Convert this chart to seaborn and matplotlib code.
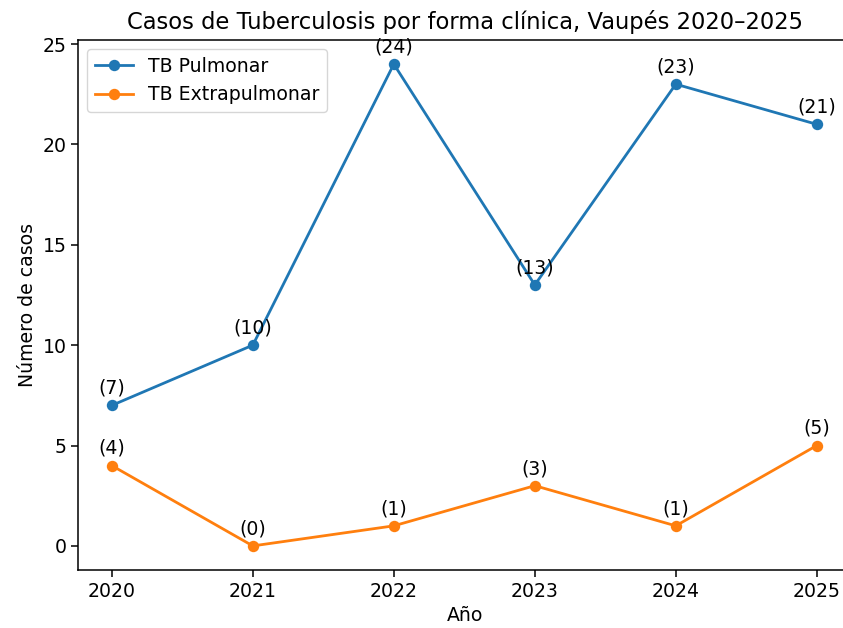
import matplotlib
matplotlib.use("Agg")
import matplotlib.pyplot as plt
import seaborn as sns
import pandas as pd

years = [2020, 2021, 2022, 2023, 2024, 2025]
pulmonar = [7, 10, 24, 13, 23, 21]
extrapulmonar = [4, 0, 1, 3, 1, 5]
series_names = ["TB Pulmonar", "TB Extrapulmonar"]

df = pd.DataFrame({
    "Año": years * 2,
    "Casos": pulmonar + extrapulmonar,
    "Forma": [series_names[0]] * len(years) + [series_names[1]] * len(years),
})

plt.rcParams["font.family"] = ["DejaVu Sans"]
fig = plt.figure(figsize=(8.43, 6.28), dpi=100)
ax = fig.add_axes([78 / 843, 1 - 570 / 628, 774 / 843, 530 / 628])

sns.lineplot(data=df, x="Año", y="Casos", hue="Forma", marker="o",
             markersize=8.2, markeredgewidth=0, linewidth=2,
             palette=["#1f77b4", "#ff7f0e"], ax=ax)

for xs, ys in [(years, pulmonar), (years, extrapulmonar)]:
    for x, y in zip(xs, ys):
        ax.annotate(f"({y})", (x, y), xytext=(0, 5.5), textcoords="offset points",
                    ha="center", va="bottom", fontsize=13.6)

ax.set_xticks(years)
ax.set_xlim(years[0] - 0.24, years[-1] + 0.25)
ax.tick_params(labelsize=13.6, length=4.8, width=1.1)
for s in ax.spines.values():
    s.set_linewidth(1.1)
ax.spines["right"].set_visible(False)
ax.set_xlabel("Año", fontsize=13.6)
ax.set_ylabel("Número de casos", fontsize=13.6)
ax.set_title("Casos de Tuberculosis por forma clínica, Vaupés 2020–2025", fontsize=16.3, pad=8)
ax.legend(loc="upper left", fontsize=13.6, title=None)

fig.savefig("out.png", dpi=100)
